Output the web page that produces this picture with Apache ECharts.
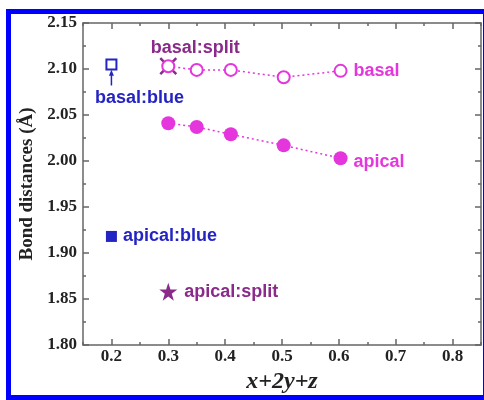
<!DOCTYPE html>
<html><head><meta charset="utf-8">
<script src="https://cdn.jsdelivr.net/npm/echarts@6/dist/echarts.min.js"></script>
<style>html,body{margin:0;padding:0;background:#fff}#c{width:484px;height:400px}</style>
</head><body><div id="c"></div>
<script>
// x = x+2y+z, y = bond distance (Å)
const basalX = [0.30, 0.35, 0.41, 0.503, 0.603];
const basalY = [2.103, 2.099, 2.099, 2.091, 2.098];
const apicalX = [0.30, 0.35, 0.41, 0.503, 0.603];
const apicalY = [2.041, 2.037, 2.029, 2.017, 2.003];
const basalSplit = [0.30, 2.103];
const basalBlue = [0.20, 2.105];
const apicalBlue = [0.20, 1.918];
const apicalSplit = [0.30, 1.858];
const arrowX = [0.20, 0.20];
const arrowY = [2.082, 2.096];
const xMajor = [0.2, 0.3, 0.4, 0.5, 0.6, 0.7, 0.8];
const xMinor = [0.15, 0.25, 0.35, 0.45, 0.55, 0.65, 0.75, 0.85];

const MAG = '#e535dc', PUR = '#8a2a8a', BLU = '#2424c4', AX = '#666';
const tickFont = {fontFamily: 'Liberation Serif', fontWeight: 'bold', fontSize: 17, color: '#222'};
const labFont = {fontFamily: 'Liberation Sans', fontWeight: 'bold', fontSize: 18};

const zip = (a, b) => a.map((v, i) => [v, b[i]]);

function xAx(pos, vals, len, labels, line) {
  return {type: 'value', position: pos, min: 0.15, max: 0.85, gridIndex: 0,
    axisLine: {show: line, onZero: false, lineStyle: {color: AX, width: 1.5}},
    axisTick: {show: true, inside: true, length: len, customValues: vals, lineStyle: {color: AX, width: 1.5}},
    axisLabel: labels ? Object.assign({show: true, customValues: xMajor, margin: 3, formatter: v => v.toFixed(1)}, tickFont) : {show: false},
    splitLine: {show: false}};
}
function yAx(pos, labels) {
  return {type: 'value', position: pos, min: 1.80, max: 2.15, interval: 0.05,
    axisLine: {show: true, onZero: false, lineStyle: {color: AX, width: 1.5}},
    axisTick: {show: true, inside: true, length: 6, lineStyle: {color: AX, width: 1.5}},
    minorTick: {show: true, splitNumber: 2, length: 3, lineStyle: {color: AX, width: 1.5}},
    axisLabel: labels ? Object.assign({show: true, margin: 6, formatter: v => v.toFixed(2)}, tickFont) : {show: false},
    splitLine: {show: false},
    name: labels ? 'Bond distances (Å)' : '', nameLocation: 'middle', nameGap: 46,
    nameTextStyle: {fontFamily: 'Liberation Serif', fontWeight: 'bold', fontSize: 19, color: '#222'}};
}
const xAxes = [xAx('bottom', xMajor, 6, true, true), xAx('bottom', xMinor, 3, false, false),
               xAx('top', xMajor, 6, false, true), xAx('top', xMinor, 3, false, false)];
xAxes[0].name = 'x+2y+z'; xAxes[0].nameLocation = 'middle'; xAxes[0].nameGap = 24;
xAxes[0].nameTextStyle = {fontFamily: 'Liberation Serif', fontWeight: 'bold', fontStyle: 'italic', fontSize: 24, color: '#222'};

const chart = echarts.init(document.getElementById('c'), null, {renderer: 'canvas'});
chart.setOption({
  animation: false,
  backgroundColor: '#fff',
  grid: {left: 83, right: 3, top: 23, bottom: 55, outerBoundsMode: 'none', containLabel: false},
  graphic: [{type: 'rect', shape: {x: 8.5, y: 11.5, width: 477, height: 386}, style: {fill: 'none', stroke: '#0000ff', lineWidth: 5}, z: 100}],
  xAxis: xAxes,
  yAxis: [yAx('left', true), yAx('right', false)],
  series: [
    {name: 'basal', type: 'line', data: zip(basalX, basalY), symbol: 'emptyCircle', symbolSize: 12,
     itemStyle: {color: MAG, borderWidth: 2, opacity: 1}, lineStyle: {color: MAG, type: [2, 3], width: 1.5},
     label: {show: true, position: 'right', distance: 6, color: MAG, ...labFont,
       formatter: p => p.dataIndex === basalX.length - 1 ? 'basal' : ''}},
    {name: 'apical', type: 'line', data: zip(apicalX, apicalY), symbol: 'circle', symbolSize: 14,
     itemStyle: {color: MAG, opacity: 1}, lineStyle: {color: MAG, type: [2, 3], width: 1.5},
     label: {show: true, position: 'right', distance: 6, offset: [0, 4], color: MAG, ...labFont,
       formatter: p => p.dataIndex === apicalX.length - 1 ? 'apical' : ''}},
    {name: 'basal:split', type: 'scatter', data: [basalSplit], symbol: 'path://M0,0L10,10M10,0L0,10', symbolSize: 16,
     itemStyle: {color: 'none', borderColor: PUR, borderWidth: 2.5, opacity: 1},
     label: {show: true, position: 'top', offset: [27, 6], color: PUR, ...labFont, formatter: 'basal:split'}},
    {name: 'basal:blue', type: 'scatter', data: [basalBlue], symbol: 'rect', symbolSize: 10,
     itemStyle: {color: '#fff', borderColor: BLU, borderWidth: 2, opacity: 1},
     label: {show: true, position: 'bottom', offset: [28, 14], color: BLU, ...labFont, formatter: 'basal:blue'}},
    {name: 'arrow', type: 'line', data: zip(arrowX, arrowY), showSymbol: true,
     symbol: (v, p) => p.dataIndex === 1 ? 'triangle' : 'none', symbolSize: [5, 6],
     itemStyle: {color: BLU, opacity: 1}, lineStyle: {color: BLU, width: 1.5}},
    {name: 'apical:blue', type: 'scatter', data: [apicalBlue], symbol: 'rect', symbolSize: 11,
     itemStyle: {color: BLU, opacity: 1},
     label: {show: true, position: 'right', distance: 6, color: BLU, ...labFont, formatter: 'apical:blue'}},
    {name: 'apical:split', type: 'scatter', data: [apicalSplit], symbol: 'path://M50,0L61.8,35.1L98.9,35.1L68.9,56.8L80.3,92.1L50,70.5L19.7,92.1L31.1,56.8L1.1,35.1L38.2,35.1Z', symbolSize: 18,
     itemStyle: {color: PUR, opacity: 1},
     label: {show: true, position: 'right', distance: 7, color: PUR, ...labFont, formatter: 'apical:split'}}
  ]
});
</script></body></html>
